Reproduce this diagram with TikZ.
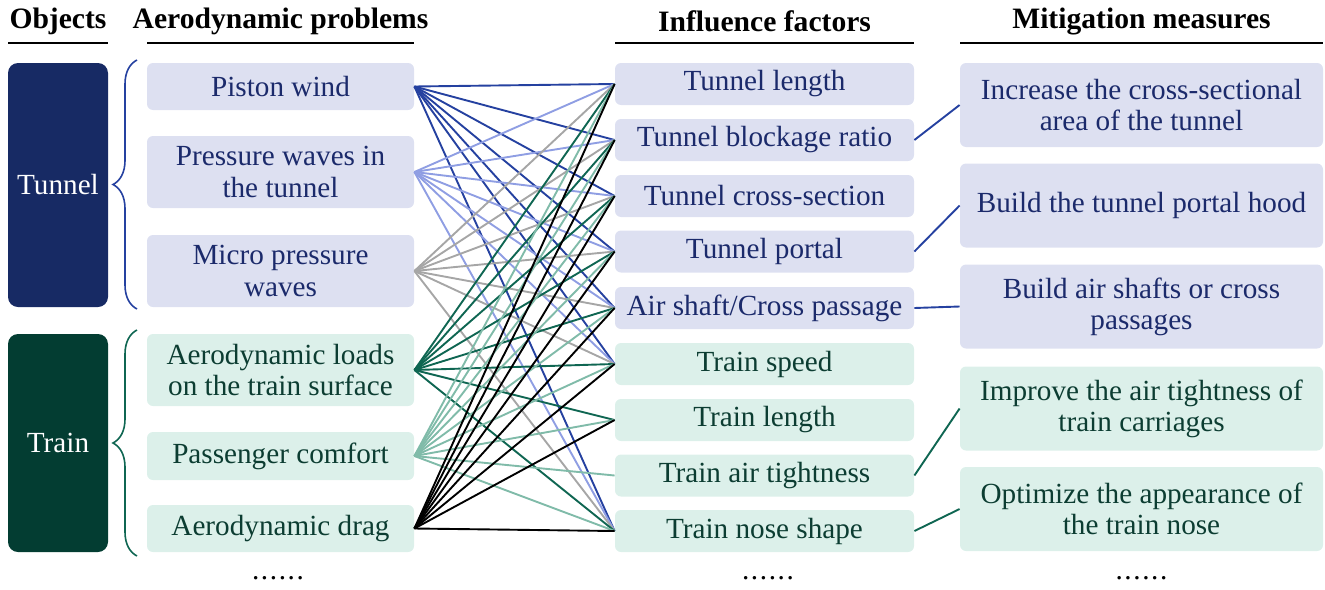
\documentclass[tikz,border=0pt]{standalone}
\usepackage{fontspec}
\setmainfont{Liberation Serif}
\usetikzlibrary{decorations.pathreplacing}
\definecolor{tfill}{HTML}{DDE0F1}
\definecolor{gfill}{HTML}{DCF0EA}
\definecolor{ttext}{HTML}{1B2A6B}
\definecolor{gtext}{HTML}{0C3D32}
\definecolor{tbox}{HTML}{172A64}
\definecolor{gbox}{HTML}{033D32}
\definecolor{cA}{HTML}{2541A0}
\definecolor{cB}{HTML}{8F9EE3}
\definecolor{cC}{HTML}{A6A6A6}
\definecolor{cD}{HTML}{0F6652}
\definecolor{cE}{HTML}{80BBA9}
\definecolor{cF}{HTML}{000000}
\newcommand{\mydots}{.\kern0.8pt.\kern0.8pt.\kern0.8pt.\kern0.8pt.\kern0.8pt.}
\tikzset{
  txt/.style={font=\fontsize{14.6}{15.6}\selectfont},
  box/.style={txt, rounded corners=3pt, inner sep=0pt, align=center},
  tb/.style={box, fill=tfill, text=ttext},
  gb/.style={box, fill=gfill, text=gtext},
  prob/.style={minimum width=133.5pt},
  fac/.style={minimum width=149.5pt, minimum height=21pt},
  meas/.style={minimum width=181.5pt, minimum height=42pt},
  obj/.style={txt, rounded corners=5pt, inner sep=0pt, minimum width=50pt, text=white},
  head/.style={font=\fontsize{14.8}{15.6}\selectfont\bfseries, inner sep=0pt},
  uline/.style={line width=1pt},
  conn/.style={line width=0.95pt},
  brc/.style={line width=0.8pt, decorate, decoration={brace, amplitude=12pt}},
  dots/.style={txt, inner sep=0pt}
}
\begin{document}
\begin{tikzpicture}[x=0.5pt,y=-0.5pt]
\useasboundingbox (0,0) rectangle (1325,589);
% headers
\node[head] (h1) at (58,21) {Objects};
\node[head] (h2) at (280.5,21) {Aerodynamic problems};
\node[head] (h3) at (764.5,21) {Influence factors};
\node[head] (h4) at (1141.5,21) {Mitigation measures};
\draw[uline] (8,43) -- (108,43);
\draw[uline] (147,43) -- (414,43);
\draw[uline] (615,43) -- (914,43);
\draw[uline] (960,43) -- (1323,43);
% objects
\node[obj, fill=tbox, minimum height=122pt] (o1) at (58,185) {Tunnel};
\node[obj, fill=gbox, minimum height=109pt] (o2) at (58,443) {Train};
\draw[brc, cA] (137,309) -- (137,60);
\draw[brc, cD] (137,556) -- (137,330);
% problems
\node[tb, prob, minimum height=23.5pt] (p1) at (280.5,86.5) {Piston wind};
\node[tb, prob, minimum height=36pt] (p2) at (280.5,172) {Pressure waves in\\the tunnel};
\node[tb, prob, minimum height=36pt] (p3) at (280.5,271) {Micro pressure\\waves};
\node[gb, prob, minimum height=36pt] (p4) at (280.5,370) {Aerodynamic loads\\on the train surface};
\node[gb, prob, minimum height=24pt] (p5) at (280.5,456) {Passenger comfort};
\node[gb, prob, minimum height=23.5pt] (p6) at (280.5,528.5) {Aerodynamic drag};
% factors
\node[tb, fac] (f1) at (764.5,84) {Tunnel length};
\node[tb, fac] (f2) at (764.5,140) {Tunnel blockage ratio};
\node[tb, fac] (f3) at (764.5,196) {Tunnel cross-section};
\node[tb, fac] (f4) at (764.5,251.5) {Tunnel portal};
\node[tb, fac] (f5) at (764.5,308) {Air shaft/Cross passage};
\node[gb, fac] (f6) at (764.5,364) {Train speed};
\node[gb, fac] (f7) at (764.5,420) {Train length};
\node[gb, fac] (f8) at (764.5,475.5) {Train air tightness};
\node[gb, fac] (f9) at (764.5,531) {Train nose shape};
% measures
\node[tb, meas] (m1) at (1141.5,105) {Increase the cross-sectional\\area of the tunnel};
\node[tb, meas] (m2) at (1141.5,205.5) {Build the tunnel portal hood};
\node[tb, meas] (m3) at (1141.5,306.5) {Build air shafts or cross\\passages};
\node[gb, meas] (m4) at (1141.5,408.5) {Improve the air tightness of\\train carriages};
\node[gb, meas] (m5) at (1141.5,509) {Optimize the appearance of\\the train nose};
% dots
\node[dots] (d1) at (278,578) {\mydots};
\node[dots] (d2) at (768,578) {\mydots};
\node[dots] (d3) at (1141.5,578) {\mydots};
% connectors problems -> factors
\foreach \t in {1,2,3,4,5,6,9} \draw[conn, cA] (p1.east) -- (f\t.west);
\foreach \t in {1,2,3,4,5,6,9} \draw[conn, cB] (p2.east) -- (f\t.west);
\foreach \t in {1,2,3,4,5,6,9} \draw[conn, cC] (p3.east) -- (f\t.west);
\foreach \t in {1,2,3,4,5,6,7,9} \draw[conn, cD] (p4.east) -- (f\t.west);
\foreach \t in {1,2,3,4,5,6,7,8,9} \draw[conn, cE] (p5.east) -- (f\t.west);
\foreach \t in {1,2,3,4,5,6,7,9} \draw[conn, cF] (p6.east) -- (f\t.west);
% factors -> measures
\draw[conn, cA] (f2.east) -- (m1.west);
\draw[conn, cA] (f4.east) -- (m2.west);
\draw[conn, cA] (f5.east) -- (m3.west);
\draw[conn, cD] (f8.east) -- (m4.west);
\draw[conn, cD] (f9.east) -- (m5.west);
\end{tikzpicture}
\end{document}
